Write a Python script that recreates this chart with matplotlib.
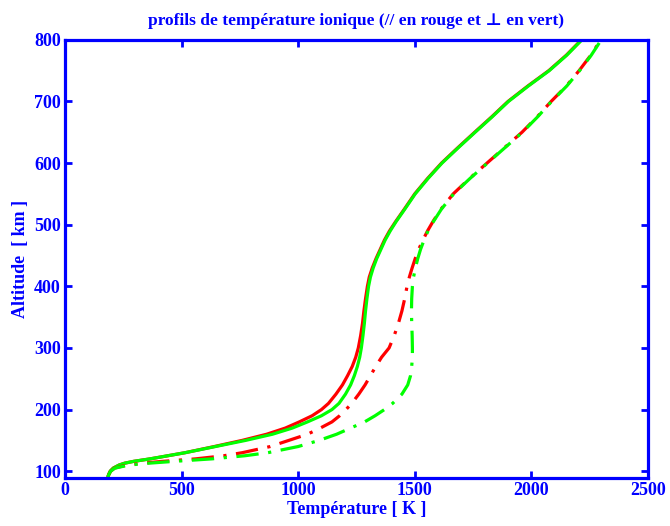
import matplotlib
matplotlib.use("Agg")
import matplotlib.pyplot as plt
import numpy as np

# altitude grid [km] and ion temperature profiles [K]
alt = [90, 93, 96, 100, 105, 110, 113, 116, 120, 125, 130, 140, 150, 160,
       170, 180, 190, 200, 210, 225, 240, 255, 270, 285, 300, 320, 340,
       360, 380, 400, 415, 430, 445, 460, 475, 490, 505, 525, 550, 575,
       600, 625, 650, 675, 700, 725, 750, 775, 800]

# parallel temperature, solid (red)
t_par = [185, 186, 189, 194, 207, 232, 256, 295, 365, 440, 515, 640, 760,
         865, 945, 1005, 1060, 1100, 1130, 1162, 1190, 1212, 1232, 1247,
         1258, 1268, 1276, 1282, 1289, 1297, 1305, 1318, 1334, 1352, 1370,
         1392, 1418, 1455, 1500, 1555, 1615, 1685, 1757, 1830, 1900, 1985,
         2075, 2150, 2215]

# perpendicular temperature, solid (green)
t_perp = [185, 186, 189, 194, 207, 232, 256, 295, 365, 440, 515, 645, 775,
          890, 975, 1040, 1100, 1145, 1175, 1203, 1225, 1241, 1254, 1264,
          1271, 1278, 1284, 1289, 1295, 1302, 1310, 1322, 1337, 1355, 1373,
          1395, 1420, 1457, 1502, 1557, 1617, 1687, 1759, 1832, 1902, 1987,
          2077, 2152, 2217]

# parallel temperature, dash-dot (red)
t_par2 = [185, 186, 190, 196, 212, 265, 330, 420, 560, 680, 760, 880, 960,
          1040, 1095, 1145, 1178, 1205, 1230, 1260, 1287, 1310, 1333, 1358,
          1390, 1412, 1430, 1445, 1457, 1467, 1477, 1489, 1502, 1517, 1535,
          1555, 1578, 1612, 1665, 1735, 1810, 1885, 1960, 2025, 2085, 2150,
          2205, 2255, 2298]

# perpendicular temperature, dash-dot (green)
t_perp2 = [185, 186, 190, 196, 214, 275, 360, 470, 630, 770, 870, 1000,
           1090, 1165, 1225, 1285, 1330, 1370, 1405, 1445, 1470, 1482,
           1487, 1490, 1490, 1489, 1487, 1486, 1487, 1490, 1495, 1503,
           1513, 1525, 1540, 1557, 1580, 1614, 1667, 1737, 1812, 1887,
           1962, 2027, 2087, 2152, 2207, 2257, 2300]

blue = (0, 0, 1)
fam = ["Liberation Serif", "DejaVu Serif"]
plt.rcParams["font.family"] = fam
plt.rcParams["font.weight"] = "bold"

fig = plt.figure(figsize=(6.7, 5.26), dpi=100)
ax = fig.add_axes([0.097, 0.0913, 0.870, 0.833])

ax.plot(t_par, alt, color=(1, 0, 0), lw=2.3)
ax.plot(t_perp, alt, color=(0, 1, 0), lw=2.3)
ax.plot(t_par2, alt, color=(1, 0, 0), lw=2.3, linestyle=(0, (7, 3, 1, 3)))
ax.plot(t_perp2, alt, color=(0, 1, 0), lw=2.3, linestyle=(0, (7, 3, 1, 3)))

ax.set_xlim(0, 2500)
ax.set_ylim(89, 800)
ax.set_xticks(np.arange(0, 2501, 500))
ax.set_yticks(np.arange(100, 801, 100))

for s in ax.spines.values():
    s.set_color(blue)
    s.set_linewidth(2.3)
ax.tick_params(direction="in", length=5, width=2, color=blue,
               labelcolor=blue, labelsize=13, top=True, right=True, pad=3)
for lab in ax.get_xticklabels() + ax.get_yticklabels():
    lab.set_fontweight("bold")

ax.set_title("profils de température ionique (// en rouge et \u22a5 en vert)",
             color=blue, fontsize=12.5, fontweight="bold", pad=11)
ax.set_xlabel("Température [ K ]", color=blue, fontsize=13,
              fontweight="bold", labelpad=1)
ax.set_ylabel("Altitude  [ km ]", color=blue, fontsize=13,
              fontweight="bold", labelpad=4)

fig.savefig("out.png", dpi=100)
